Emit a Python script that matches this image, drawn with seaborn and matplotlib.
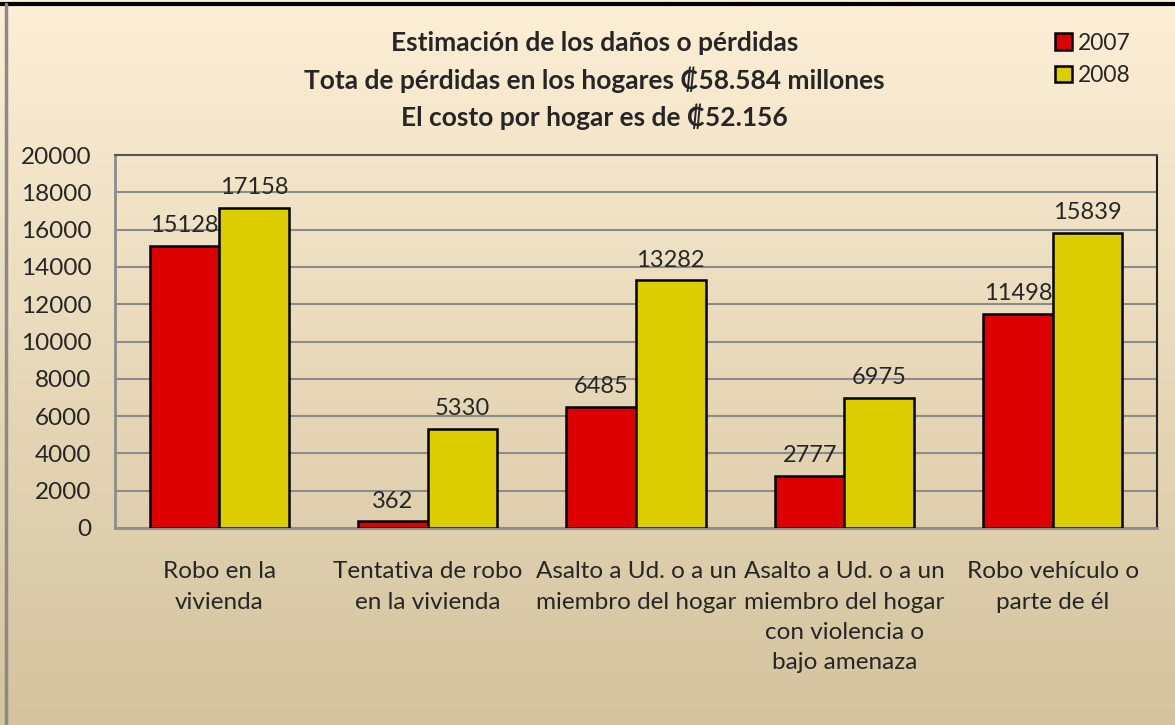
import numpy as np
import pandas as pd
import matplotlib
matplotlib.use("Agg")
import matplotlib.pyplot as plt
from matplotlib.lines import Line2D
from matplotlib.patches import Patch
import seaborn as sns

categories = ["Robo en la\nvivienda",
              "Tentativa de robo\nen la vivienda",
              "Asalto a Ud. o a un\nmiembro del hogar",
              "Asalto a Ud. o a un\nmiembro del hogar\ncon violencia o\nbajo amenaza",
              "Robo vehículo o\nparte de él"]
series_names = ["2007", "2008"]
values_2007 = [15128, 362, 6485, 2777, 11498]
values_2008 = [17158, 5330, 13282, 6975, 15839]
y_ticks = [0, 2000, 4000, 6000, 8000, 10000, 12000, 14000, 16000, 18000, 20000]
title_lines = ["Estimación de los daños o pérdidas",
               "Tota de pérdidas en los hogares ₡58.584 millones",
               "El costo por hogar es de ₡52.156"]

colors = {"2007": "#DC0000", "2008": "#DCCD00"}

df = pd.DataFrame({
    "cat": categories * 2,
    "year": [series_names[0]] * len(categories) + [series_names[1]] * len(categories),
    "val": values_2007 + values_2008,
})

sns.set_theme(style="white")
plt.rcParams["font.family"] = ["Lato", "DejaVu Sans"]

W, H = 1175, 725
fig = plt.figure(figsize=(W / 100, H / 100), dpi=100)

# gradient background
bg = fig.add_axes([0, 0, 1, 1], zorder=-10)
grad = np.linspace(0, 1, 256).reshape(-1, 1)
top = np.array([0xFD, 0xEF, 0xD6]) / 255
bot = np.array([0xD3, 0xC3, 0x9E]) / 255
img = top[None, None, :] * (1 - grad[:, :, None]) + bot[None, None, :] * grad[:, :, None]
bg.imshow(img, aspect="auto", extent=[0, 1, 0, 1], origin="upper")
bg.set_axis_off()
bg.add_line(Line2D([0, 1], [1 - 4 / H, 1 - 4 / H], color="black", lw=3, transform=bg.transAxes))
bg.add_line(Line2D([6 / W, 6 / W], [0, 1 - 4 / H], color="#8a8a8a", lw=2.5, transform=bg.transAxes))

ax_l, ax_r, ax_t, ax_b = 115, 1157, 155, 528
ax = fig.add_axes([ax_l / W, 1 - ax_b / H, (ax_r - ax_l) / W, (ax_b - ax_t) / H])
ax.patch.set_alpha(0)

sns.barplot(data=df, x="cat", y="val", hue="year", palette=colors,
            width=0.667, edgecolor="black", linewidth=1.8, ax=ax,
            legend=False, saturation=1, zorder=3)

ax.set_ylim(0, 20000)
ax.set_yticks(y_ticks)
ax.set_yticklabels([str(v) for v in y_ticks], fontsize=17.5)
ax.yaxis.grid(True, color="#8c8c8c", lw=1.5, zorder=0)
ax.set_axisbelow(True)
ax.set_xlabel("")
ax.set_ylabel("")
ax.tick_params(axis="x", labelsize=17.5, pad=24, length=0)
ax.tick_params(axis="y", pad=17, length=0)
for lab in ax.get_xticklabels():
    lab.set_linespacing(1.55)
for s in ["left", "bottom"]:
    ax.spines[s].set_color("#8c8c8c")
    ax.spines[s].set_linewidth(2)
ax.spines["right"].set_color("#222222")
ax.spines["right"].set_linewidth(1.5)
ax.spines["top"].set_color("#555555")
ax.spines["top"].set_linewidth(1.5)

for cont in ax.containers:
    ax.bar_label(cont, fmt="%d", fontsize=17, padding=7)

fig.text(0.506, 1 - 31 / H, "\n".join(title_lines), ha="center", va="top",
         fontsize=19, fontweight="bold", linespacing=1.5)

handles = [Patch(facecolor=colors[s], edgecolor="black", lw=1.8) for s in series_names]
fig.legend(handles, series_names, loc="upper left", bbox_to_anchor=(1034 / W, 1 - 12 / H),
           frameon=False, fontsize=16.5, handlelength=0.75, handleheight=0.75,
           handletextpad=0.25, labelspacing=0.5)

fig.savefig("out.png", dpi=100)
